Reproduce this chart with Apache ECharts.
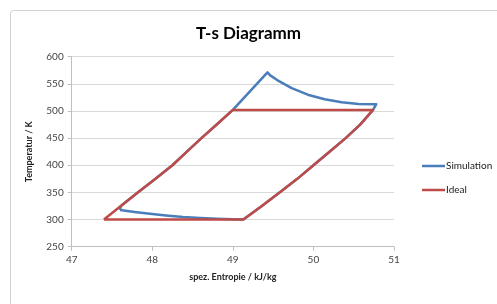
<!DOCTYPE html>
<html><head><meta charset="utf-8">
<script src="https://cdn.jsdelivr.net/npm/echarts@6/dist/echarts.min.js"></script>
<style>html,body{margin:0;padding:0;background:#fff}#c{width:497px;height:304px}</style>
</head><body><div id="c"></div>
<script>
const xTicks = [47, 48, 49, 50, 51];
const yTicks = [250, 300, 350, 400, 450, 500, 550, 600];
const idealS = [47.40, 47.61, 47.82, 48.04, 48.25, 48.43, 48.61, 48.80, 49.00, 50.74, 50.58, 50.40, 50.20, 50.00, 49.80, 49.58, 49.36, 49.13, 47.40];
const idealT = [300, 325, 350, 375, 400, 425, 450, 475, 502, 502, 475, 450, 425, 400, 375, 350, 325, 300, 300];
const simS = [47.60, 47.61, 47.82, 48.04, 48.25, 48.43, 48.61, 48.80, 49.00, 49.43, 49.46, 49.55, 49.73, 49.93, 50.14, 50.35, 50.56, 50.78, 50.74, 50.58, 50.40, 50.20, 50.00, 49.80, 49.58, 49.36, 49.13, 49.00, 48.80, 48.60, 48.38, 48.17, 47.97, 47.78, 47.60];
const simT = [317.5, 325, 350, 375, 400, 425, 450, 475, 502, 571, 566, 557, 542, 530, 521.5, 516, 513, 512.5, 502, 475, 450, 425, 400, 375, 350, 325, 300, 300.5, 301.6, 303, 304.7, 307.5, 310.7, 314, 317.5];
const FONT = 'Lato';
const chart = echarts.init(document.getElementById('c'), null, {renderer: 'canvas'});
chart.setOption({
  animation: false,
  textStyle: {fontFamily: FONT},
  graphic: [{type: 'rect', shape: {x: 10.5, y: 10.5, width: 500, height: 300, r: 3}, style: {fill: 'none', stroke: '#d0d0d0', lineWidth: 1}, z: -1}],
  title: {text: 'T-s Diagramm', left: 'center', top: 20, textStyle: {fontFamily: FONT, fontSize: 17, fontWeight: 'bold', color: '#000'}},
  legend: {
    orient: 'vertical', left: 422, top: 161, padding: 0, itemWidth: 23, itemHeight: 2.5, itemGap: 14,
    icon: 'rect',
    textStyle: {fontFamily: FONT, fontSize: 10, color: '#222', padding: [0, 0, 0, -4]},
    data: ['Simulation', 'Ideal']
  },
  grid: {left: 71.7, right: 103, top: 56.7, bottom: 57.3, containLabel: false},
  xAxis: {
    type: 'value', min: xTicks[0], max: xTicks[xTicks.length - 1], interval: 1,
    name: 'spez. Entropie / kJ/kg', nameLocation: 'middle', nameGap: 26,
    nameTextStyle: {fontFamily: FONT, fontSize: 9, fontWeight: 'bold', color: '#222'},
    axisLine: {lineStyle: {color: '#bfbfbf'}},
    axisTick: {show: true, length: 4, lineStyle: {color: '#bfbfbf'}},
    axisLabel: {fontSize: 10, color: '#444', margin: 8},
    splitLine: {show: false}
  },
  yAxis: {
    type: 'value', min: yTicks[0], max: yTicks[yTicks.length - 1], interval: 50,
    name: 'Temperatur / K', nameLocation: 'middle', nameGap: 38, nameRotate: 90,
    nameTextStyle: {fontFamily: FONT, fontSize: 9, fontWeight: 'bold', color: '#222'},
    axisLine: {show: true, lineStyle: {color: '#bfbfbf'}},
    axisTick: {show: true, length: 4, lineStyle: {color: '#bfbfbf'}},
    axisLabel: {fontSize: 10, color: '#444', margin: 8},
    splitLine: {show: true, lineStyle: {color: '#d9d9d9', width: 1}}
  },
  series: [
    {name: 'Simulation', type: 'line', symbol: 'none', data: simS.map((s, i) => [s, simT[i]]),
     lineStyle: {color: '#4a7ebb', width: 2.5, join: 'round'}, itemStyle: {color: '#4a7ebb'}, z: 2},
    {name: 'Ideal', type: 'line', symbol: 'none', data: idealS.map((s, i) => [s, idealT[i]]),
     lineStyle: {color: '#be4b48', width: 2.5, join: 'round'}, itemStyle: {color: '#be4b48'}, z: 3}
  ]
});
</script></body></html>
